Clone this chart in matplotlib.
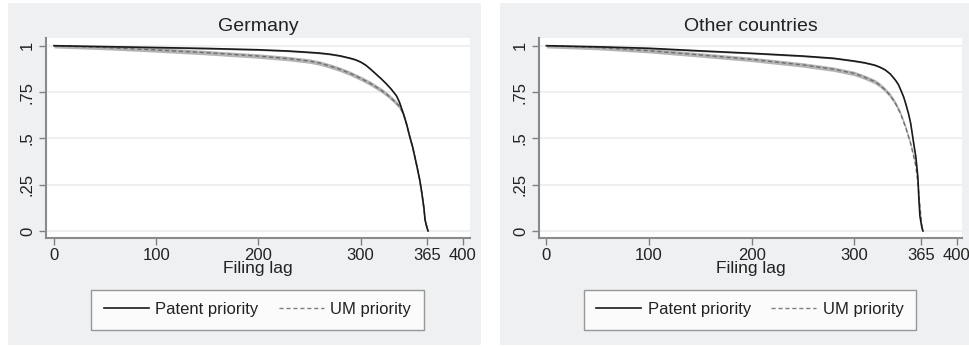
import numpy as np
import matplotlib
matplotlib.use("Agg")
import matplotlib.pyplot as plt
from matplotlib.patches import Rectangle
from matplotlib.lines import Line2D

plt.rcParams['font.family'] = ['Liberation Sans', 'DejaVu Sans']

# survival curves (filing lag in days, share not yet filed)
de_pat_x = [0, 50, 100, 150, 200, 230, 250, 260, 270, 280, 290, 295, 300, 305, 310, 315, 320, 325, 330, 335, 338, 342, 345, 348, 351, 355, 358, 360, 362, 363, 365, 366]
de_pat_y = [1.0, 0.995, 0.99, 0.985, 0.978, 0.971, 0.964, 0.96, 0.954, 0.945, 0.932, 0.924, 0.912, 0.895, 0.872, 0.847, 0.822, 0.795, 0.765, 0.73, 0.695, 0.63, 0.575, 0.51, 0.45, 0.35, 0.27, 0.2, 0.12, 0.06, 0.015, 0.0]
de_um_x = [0, 50, 100, 150, 200, 230, 250, 260, 270, 280, 290, 300, 310, 320, 325, 330, 335, 338, 342, 345, 348, 351, 355, 358, 360, 362, 363, 365, 366]
de_um_y = [1.0, 0.99, 0.977, 0.962, 0.944, 0.93, 0.917, 0.906, 0.89, 0.872, 0.85, 0.824, 0.795, 0.76, 0.74, 0.716, 0.69, 0.672, 0.63, 0.575, 0.51, 0.45, 0.35, 0.27, 0.2, 0.12, 0.06, 0.015, 0.0]

ot_pat_x = [0, 50, 100, 150, 200, 250, 280, 300, 310, 320, 325, 330, 335, 340, 343, 345, 348, 350, 353, 355, 358, 360, 362, 363, 364, 366, 367]
ot_pat_y = [1.0, 0.994, 0.986, 0.972, 0.959, 0.944, 0.932, 0.917, 0.908, 0.895, 0.884, 0.87, 0.848, 0.815, 0.79, 0.765, 0.725, 0.69, 0.63, 0.58, 0.47, 0.4, 0.29, 0.17, 0.08, 0.015, 0.0]
ot_um_x = [0, 50, 100, 150, 200, 250, 280, 300, 310, 320, 325, 330, 335, 340, 345, 350, 355, 358, 360, 362, 364, 366, 367]
ot_um_y = [1.0, 0.99, 0.973, 0.95, 0.926, 0.896, 0.873, 0.85, 0.83, 0.806, 0.787, 0.762, 0.732, 0.69, 0.635, 0.56, 0.47, 0.4, 0.35, 0.26, 0.13, 0.02, 0.0]

panels = [
    ("Germany", de_pat_x, de_pat_y, de_um_x, de_um_y),
    ("Other countries", ot_pat_x, ot_pat_y, ot_um_x, ot_um_y),
]

x_ticks = [0, 100, 200, 300, 365, 400]
y_ticks = [0, 0.25, 0.5, 0.75, 1]
y_ticklabels = ["0", ".25", ".5", ".75", "1"]

W, H = 969, 347
fig = plt.figure(figsize=(W / 100, H / 100), dpi=100)
fig.patch.set_facecolor("white")

bg = "#eef0f2"
# pixel boxes: left, right, top, bottom
panel_boxes = [(8, 481, 3, 345), (500, 969, 3, 345)]
axes_boxes = [(46, 470, 38, 238), (539, 962, 38, 238)]
xlims = [(-7.8, 407), (-7.2, 405)]
legend_boxes = [(97, 418, 287, 332), (589, 911, 287, 332)]

for k, (title, px, py, ux, uy) in enumerate(panels):
    l, r, t, b = panel_boxes[k]
    fig.patches.append(Rectangle((l / W, 1 - b / H), (r - l) / W, (b - t) / H,
                                 transform=fig.transFigure, facecolor=bg,
                                 edgecolor="none", zorder=-10))
    l, r, t, b = axes_boxes[k]
    ax = fig.add_axes([l / W, 1 - b / H, (r - l) / W, (b - t) / H])
    ax.set_facecolor("white")

    ux = np.array(ux); uy = np.array(uy)
    px = np.array(px); py = np.array(py)
    # confidence bands
    ax.fill_between(ux, np.clip(uy - 0.012, 0, 1), np.clip(uy + 0.012, 0, 1),
                    color="#b4b4b4", linewidth=0, zorder=2)
    ax.fill_between(px, np.clip(py - 0.004, 0, 1), np.clip(py + 0.004, 0, 1),
                    color="#9a9a9a", linewidth=0, zorder=3)
    ax.plot(ux, uy, color="#6e6e6e", linestyle=(0, (3, 2)), linewidth=1.0,
            zorder=4)
    ax.plot(px, py, color="#1a1a1a", linewidth=1.2, zorder=5)

    ax.set_xlim(*xlims[k])
    ax.set_ylim(-0.038, 1.0415)
    ax.set_xticks(x_ticks)
    ax.set_yticks(y_ticks)
    ax.set_yticklabels(y_ticklabels, rotation=90, va="center")
    ax.tick_params(axis="both", colors="#808080", labelcolor="#222222",
                   labelsize=12, length=5, width=1, direction="out")
    ax.tick_params(axis="y", pad=3)
    ax.tick_params(axis="x", pad=2)
    ax.grid(axis="y", color="#ececec", linewidth=1.2)
    ax.set_axisbelow(True)
    for side in ["top", "right"]:
        ax.spines[side].set_visible(False)
    for side in ["left", "bottom"]:
        ax.spines[side].set_color("#8a8a8a")
        ax.spines[side].set_linewidth(1.5)
    ax.set_title(title, fontsize=14, color="#222222", pad=5)
    ax.set_xlabel("Filing lag", fontsize=12.5, color="#222222", labelpad=-1)

    h_pat = Line2D([], [], color="#1a1a1a", linewidth=1.2)
    h_um = Line2D([], [], color="#808080", linestyle=(0, (3, 2)), linewidth=1.0)
    l, r, t, b = legend_boxes[k]
    leg = fig.legend([h_pat, h_um], ["Patent priority", "UM priority"],
                     loc="center", bbox_to_anchor=((l + r) / 2 / W, 1 - (t + b) / 2 / H),
                     ncol=2, fontsize=12, frameon=True, fancybox=False,
                     handlelength=2.7, handletextpad=0.4, columnspacing=1.2,
                     borderpad=0.75, borderaxespad=0)
    leg.get_frame().set_edgecolor("#808080")
    leg.get_frame().set_linewidth(1.0)
    for txt in leg.get_texts():
        txt.set_color("#222222")

fig.savefig("out.png", dpi=100, facecolor="white")
